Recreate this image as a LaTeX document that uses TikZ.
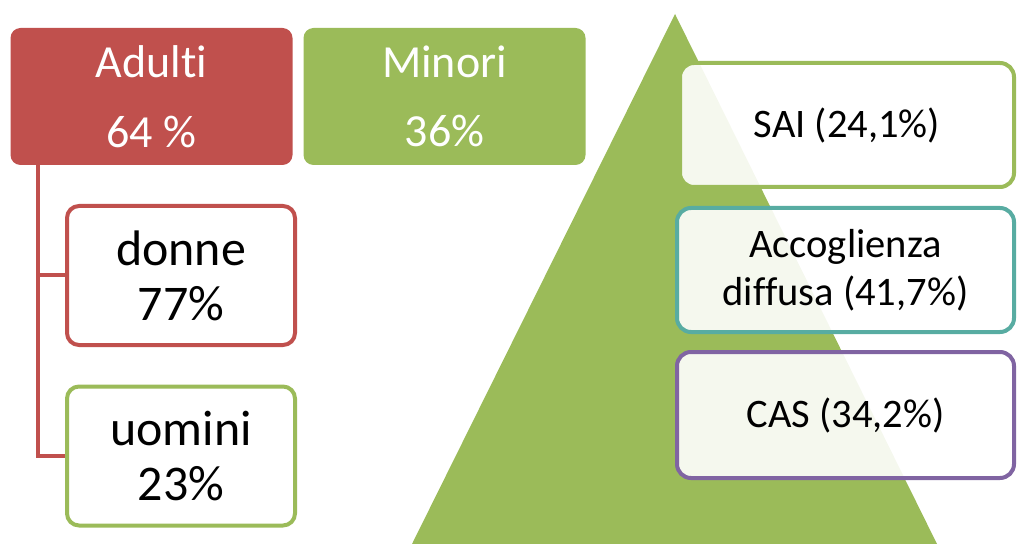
\documentclass[tikz,border=0pt]{standalone}
\usepackage{fontspec}
\setmainfont{Carlito}[Ligatures = NoCommon]
\usetikzlibrary{positioning}

% Colours of the chart.
\definecolor{redacc}{RGB}{192,80,77}
\definecolor{greenacc}{RGB}{155,187,89}
\definecolor{tealacc}{RGB}{88,172,162}
\definecolor{purpleacc}{RGB}{128,100,162}

% One pixel of the reference.
\newcommand{\px}{0.025cm}

\begin{document}
\begin{tikzpicture}[x=0.025cm, y=-0.025cm,
    headbox/.style = {
        rectangle, rounded corners = 10*\px, inner sep = 0pt,
        text = white, align = center,
        minimum width = 282*\px, minimum height = 137*\px,
        font = \fontsize{32.7}{49.6}\selectfont
    },
    subbox/.style = {
        rectangle, rounded corners = 12*\px, inner sep = 0pt,
        fill = white, line width = 4*\px, align = center,
        minimum width = 228*\px, minimum height = 139*\px,
        font = \fontsize{35.5}{39}\selectfont
    },
    levelbox/.style = {
        rectangle, rounded corners = 14*\px, inner sep = 0pt,
        fill = white, fill opacity = 0.9, text opacity = 1,
        line width = 4*\px, align = center,
        minimum width = 337*\px, minimum height = 124*\px,
        font = \fontsize{28.8}{34}\selectfont
    }
]

    % Frame of the picture.
    \useasboundingbox (0, 0) rectangle (1018, 544);

    % Top boxes.
    \node[headbox, fill = redacc] (adulti) at (151.5, 96.5) {Adulti\\64 \%};
    \node[headbox, fill = greenacc] (minori) at (444.5, 96.5) {Minori\\36\%};

    % Split of the adults.
    \node[subbox, draw = redacc] (donne) at (181, 275.5) {donne\\77\%};
    \node[subbox, draw = greenacc] (uomini) at (181, 456) {uomini\\23\%};

    % Red tree line from the adults box.
    \coordinate (trunk) at (38, 165);
    \draw[redacc, line width = 4*\px] (trunk) |- (donne.west);
    \draw[redacc, line width = 4*\px] (trunk) |- (uomini.west);

    % Pyramid behind the levels.
    \fill[greenacc] (675, 14) -- (412, 544) -- (937, 544) -- cycle;

    % Levels of the pyramid.
    \node[levelbox, draw = greenacc, minimum width = 334*\px]
        (sai) at (847, 125) {SAI (24,1\%)};
    \node[levelbox, draw = tealacc]
        (diffusa) at (845.5, 270) {Accoglienza\\diffusa (41,7\%)};
    \node[levelbox, draw = purpleacc, minimum height = 126*\px]
        (cas) at (845.5, 415) {CAS (34,2\%)};

\end{tikzpicture}
\end{document}
